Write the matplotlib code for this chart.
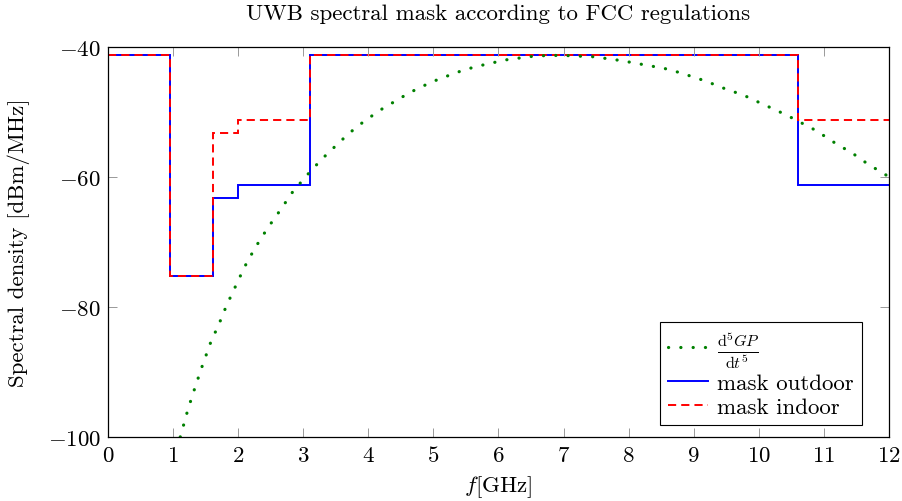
import matplotlib
matplotlib.use("Agg")
import matplotlib.pyplot as plt

plt.rcParams['font.family'] = 'serif'
plt.rcParams['font.serif'] = ['cmr10']
plt.rcParams['mathtext.fontset'] = 'cm'
plt.rcParams['axes.formatter.use_mathtext'] = True

# FCC mask (GHz edges, dBm/MHz levels)
mask_edges = [0, 0.96, 1.61, 1.99, 3.1, 10.6, 12]
outdoor_levels = [-41.3, -75.3, -63.3, -61.3, -41.3, -61.3]
indoor_levels = [-41.3, -75.3, -53.3, -51.3, -41.3, -51.3]

# 5th derivative gaussian pulse spectrum
gp_f = [1.11, 1.23, 1.33, 1.44, 1.59, 1.69, 1.82, 1.96, 2.10, 2.26, 2.45, 2.64,
        2.83, 3.05, 3.28, 3.52, 3.69, 3.86, 4.04, 4.23, 4.42, 4.62, 4.82, 5.02,
        5.23, 5.45, 5.66, 5.88, 6.10, 6.32, 6.55, 6.78, 7.01, 7.22, 7.45, 7.68,
        7.89, 8.11, 8.33, 8.55, 8.77, 8.99, 9.20, 9.42, 9.62, 9.83, 10.04, 10.24,
        10.45, 10.64, 10.85, 11.04, 11.22, 11.42, 11.60, 11.79, 11.91, 12.0]
gp_db = [-100.0, -95.7, -92.6, -89.3, -85.1, -83.0, -79.8, -76.8, -73.8, -70.9,
         -67.9, -65.2, -62.4, -59.8, -57.3, -55.0, -53.4, -52.0, -50.7, -49.4,
         -48.3, -47.1, -46.1, -45.2, -44.4, -43.6, -43.0, -42.5, -42.0, -41.7,
         -41.4, -41.3, -41.3, -41.4, -41.5, -41.8, -42.1, -42.5, -42.9, -43.3,
         -43.9, -44.6, -45.3, -46.2, -46.9, -47.7, -48.7, -49.6, -50.6, -51.6,
         -52.7, -53.9, -55.1, -56.2, -57.5, -58.7, -59.4, -60.0]

fs = 16.5

fig = plt.figure(figsize=(9.03, 5.02), dpi=100)
ax = fig.add_axes([108 / 903, 1 - 438 / 502, 781 / 903, 390 / 502])

ax.plot(gp_f, gp_db, color='#008000', lw=2.3, linestyle=(0, (0.05, 3.8)),
        dash_capstyle='round', label=r'$\frac{\mathrm{d}^5GP}{\mathrm{d}t^5}$')
ax.stairs(outdoor_levels, mask_edges, baseline=None, color='#0000ff', lw=1.4,
          label='mask outdoor')
ax.stairs(indoor_levels, mask_edges, baseline=None, color='#ff0000', lw=1.4,
          linestyle=(0, (4.2, 2.6)), label='mask indoor')

ax.set_xlim(0, 12)
ax.set_ylim(-100, -40)
ax.set_xticks(range(0, 13))
ax.set_yticks([-100, -80, -60, -40])
ax.tick_params(direction='in', top=True, right=True, length=6.5, width=0.7,
               color='#999999', labelsize=fs)
ax.tick_params(axis='x', pad=6)
ax.tick_params(axis='y', pad=5)
for s in ax.spines.values():
    s.set_linewidth(0.9)

ax.set_title('UWB spectral mask according to FCC regulations', fontsize=fs, pad=20)
ax.set_xlabel(r'$f$[GHz]', fontsize=fs, labelpad=6)
ax.set_ylabel('Spectral density [dBm/MHz]', fontsize=fs, labelpad=13)

leg = ax.legend(loc='lower right', bbox_to_anchor=(862 / 903, 1 - 426 / 502),
                bbox_transform=fig.transFigure, borderaxespad=0,
                fontsize=fs, fancybox=False, framealpha=1,
                edgecolor='black', handlelength=1.75,
                handletextpad=0.4, labelspacing=0.15, borderpad=0.35)
leg.get_frame().set_linewidth(0.8)

fig.savefig('out.png', dpi=100)
